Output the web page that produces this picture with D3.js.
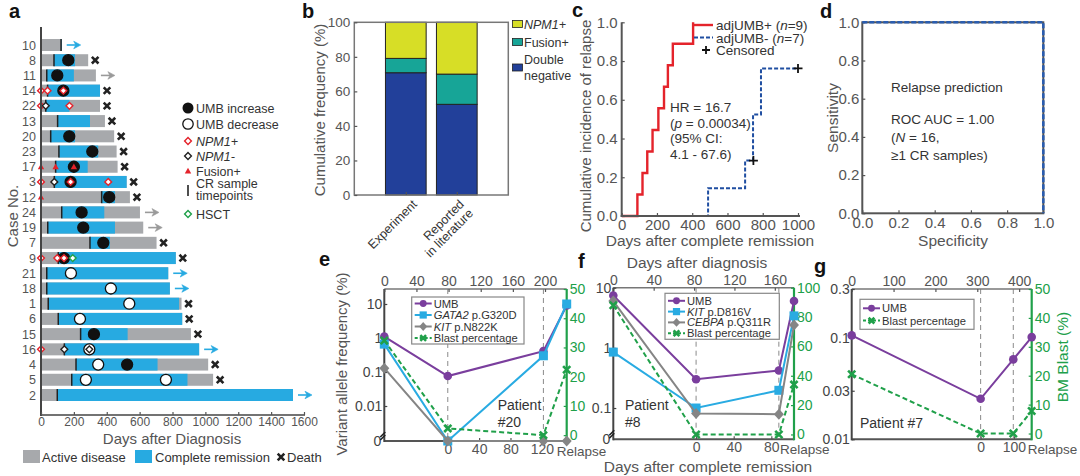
<!DOCTYPE html>
<html><head><meta charset="utf-8">
<script src="https://cdn.jsdelivr.net/npm/d3@7"></script>
<style>body{margin:0;background:#fff}svg{font-family:"Liberation Sans",Arial,sans-serif}</style>
</head><body>
<svg id="fig" width="1080" height="476"></svg>
<script>
// ---------------- DATA ----------------
// Panel a (swimmer plot)
const caseIds   = ["10","8","11","14","22","13","20","23","17","3","12","24","19","7","9","21","18","1","6","15","16","4","5","2"];
const crStart   = [122,79,35,40,29,101,59,109,89,81,369,126,41,298,105,35,35,44,105,241,142,213,187,99];
const crEnd     = [126,207,200,359,173,298,207,348,284,521,450,385,450,419,820,774,784,840,859,527,962,709,891,1533];
const totalDays = [126,287,334,359,359,389,445,460,466,521,541,602,622,703,820,774,784,855,859,912,962,1017,1047,1533];
const outcome   = ["cr","death","active","death","death","death","death","death","death","death","death","active","active","death","death","cr","cr","death","death","death","cr","death","death","cr"];
const umbCase = ["8","11","14","20","23","17","3","12","24","19","7","9","21","18","1","6","15","16","4","4","5","5"];
const umbDay  = [166,99,136,172,312,200,180,415,247,257,379,140,182,425,537,237,322,294,348,524,273,760];
const umbType = ["inc","inc","inc","inc","inc","inc","inc","inc","inc","inc","inc","inc","dec","dec","dec","dec","inc","dec","dec","inc","dec","dec"];
const npmPosCase = ["14","14","14","22","22","3","3","3","9","9","9","16"];
const npmPosDay  = [0,40,136,0,173,0,180,409,0,99,140,0];
const npmNegCase = ["22","3","16","16"];
const npmNegDay  = [29,81,142,294];
const fusionCase = ["17","17","17","12"];
const fusionDay  = [0,89,200,0];
const hsctCase = ["9"];
const hsctDay  = [193];
const aTicks = [0,200,400,600,800,1000,1200,1400,1600];

// Panel b
const bCats = ["Experiment","Reported in literature"];
const bDoubleNeg = [70.8, 52.5];
const bFusion    = [8.3, 17.5];
const bNPM1      = [20.9, 30.0];
const bTicks = [0,20,40,60,80,100];

// Panel c
const plusDays = [0,89,118,145,175,208,240,262,290,405];
const plusInc  = [0,0.111,0.222,0.333,0.444,0.556,0.667,0.778,0.889,1.0];
const minusDays = [0,490,700,745,790,1000];
const minusInc  = [0,0.143,0.286,0.524,0.762,0.762];
const censorDays = [747,1000];
const censorInc  = [0.286,0.762];
const cTicksX = [0,200,400,600,800,1000];
const cTicksY = [0,0.2,0.4,0.6,0.8,1.0];

// Panel d
const rocSpec = [0,1,1];
const rocSens = [1,1,0];
const dTicks = [0,0.2,0.4,0.6,0.8,1.0];

// Panel e (patient #20): days after diagnosis, days after CR for CR samples
const eDays  = [0,79,198,227];
const eCRDays = [0,122];
const eUMB   = [1.1,0.076,0.41,9];
const eGATA2 = [0.66,0,0.3,10];
const eKIT   = [0.13,0,0,0];
const eBlast = [32.4,2.3,0,22.4];
// Panel f (patient #8)
const fDays  = [0,82,164,179];
const fCRDays = [0,88];
const fUMB   = [7.4,0.30,0.42,6.0];
const fKIT   = [0.85,0.10,0.197,3.4];
const fCEBPA = [6.0,0.081,0.079,2.4];
const fBlast = [88,0,0,34];
// Panel g (patient #7)
const gDays  = [0,308,386,430];
const gCRDays = [0,98];
const gUMB   = [0.105,0.025,0.061,0.101];
const gBlast = [20.5,0,0,7.8];

// ---------------- STYLE ----------------
const GRAY_BAR="#a7a9ac", BLUE_BAR="#27aae1", RED="#e4232b", DARK="#222";
const TXT="#555", TXT2="#333";
const PURPLE="#7a3e9d", LBLUE="#29abe2", MGRAY="#858585", GREEN="#20a04a";
const svg = d3.select("#fig");

function label(t,x,y){ svg.append("text").attr("x",x).attr("y",y).attr("font-size",20).attr("font-weight","bold").attr("fill","#111").text(t); }
function styleAxis(sel,color,fs){
  sel.select(".domain").remove();
  sel.selectAll(".tick line").attr("stroke",color).attr("stroke-width",1.2);
  sel.selectAll(".tick text").attr("fill",color).attr("font-size",fs).attr("font-family","Liberation Sans, Arial, sans-serif");
}
function diamond(g,x,y,r,stroke,fill){ g.append("path").attr("d",`M${x},${y-r}L${x+r},${y}L${x},${y+r}L${x-r},${y}Z`).attr("fill",fill).attr("stroke",stroke).attr("stroke-width",1.4); }
function tri(g,x,y,r,fill){ g.append("path").attr("d",`M${x},${y-r}L${x+r},${y+r*0.75}L${x-r},${y+r*0.75}Z`).attr("fill",fill); }
function xmark(g,x,y,s,color,w){ g.append("path").attr("d",`M${x-s},${y-s}L${x+s},${y+s}M${x-s},${y+s}L${x+s},${y-s}`).attr("stroke",color).attr("stroke-width",w).attr("fill","none"); }
function arrow(g,x,y,color){
  g.append("line").attr("x1",x).attr("x2",x+10).attr("y1",y).attr("y2",y).attr("stroke",color).attr("stroke-width",1.6);
  g.append("path").attr("d",`M${x+14},${y}L${x+7},${y-3.8}L${x+9},${y}L${x+7},${y+3.8}Z`).attr("fill",color).attr("stroke",color).attr("stroke-width",0.6);
}

// ---------------- PANEL A ----------------
(function(){
  const g = svg.append("g");
  const x = d3.scaleLinear().domain([0,1600]).range([41,304]);
  const y = d3.scalePoint().domain(caseIds).range([45,395]);
  const BH = 12;
  caseIds.forEach((id,i)=>{
    const yc = y(id);
    g.append("rect").attr("x",x(0)+1).attr("y",yc-BH/2).attr("width",x(totalDays[i])-x(0)-1).attr("height",BH).attr("fill",GRAY_BAR);
    g.append("rect").attr("x",x(crStart[i])).attr("y",yc-BH/2).attr("width",x(crEnd[i])-x(crStart[i])).attr("height",BH).attr("fill",BLUE_BAR);
    g.append("line").attr("x1",x(crStart[i])).attr("x2",x(crStart[i])).attr("y1",yc-BH/2).attr("y2",yc+BH/2).attr("stroke",DARK).attr("stroke-width",1.5);
    const xe = x(totalDays[i]);
    if(outcome[i]==="death") xmark(g,xe+7,yc,3.3,DARK,2.6);
    else arrow(g,xe+5,yc,outcome[i]==="cr"?BLUE_BAR:"#9a9a9a");
  });
  umbCase.forEach((id,i)=>{
    g.append("circle").attr("cx",x(umbDay[i])).attr("cy",y(id)).attr("r",5.5)
      .attr("fill",umbType[i]==="inc"?"#111":"#fff").attr("stroke","#111").attr("stroke-width",1.3);
  });
  npmPosCase.forEach((id,i)=>diamond(g,x(npmPosDay[i]),y(id),3.4,RED,"#fff"));
  npmNegCase.forEach((id,i)=>diamond(g,x(npmNegDay[i]),y(id),3.4,DARK,"#fff"));
  fusionCase.forEach((id,i)=>tri(g,x(fusionDay[i]),y(id),3.2,RED));
  hsctCase.forEach((id,i)=>diamond(g,x(hsctDay[i]),y(id),3.4,GREEN,"#fff"));
  // axes
  g.append("line").attr("x1",41).attr("x2",41).attr("y1",27).attr("y2",416).attr("stroke","#444").attr("stroke-width",2);
  g.append("line").attr("x1",40).attr("x2",305).attr("y1",415).attr("y2",415).attr("stroke","#444").attr("stroke-width",1.5);
  const ax = g.append("g").attr("transform","translate(0,415)").call(d3.axisBottom(x).tickValues(aTicks).tickFormat(d3.format("d")).tickSize(-3).tickPadding(2));
  styleAxis(ax,TXT,12);
  const ay = g.append("g").attr("transform","translate(41,0)").call(d3.axisLeft(y).tickSize(0).tickPadding(5));
  styleAxis(ay,TXT,12.5);
  g.append("text").attr("transform","translate(18,216) rotate(-90)").attr("text-anchor","middle").attr("font-size",15).attr("fill",TXT).text("Case No.");
  g.append("text").attr("x",172).attr("y",444).attr("text-anchor","middle").attr("font-size",15).attr("fill",TXT).text("Days after Diagnosis");
  // legend (right)
  const lx=188, tx=196, fs=12.5;
  g.append("circle").attr("cx",lx).attr("cy",108).attr("r",5.5).attr("fill","#111");
  g.append("text").attr("x",tx).attr("y",112.5).attr("font-size",fs).attr("fill",TXT2).text("UMB increase");
  g.append("circle").attr("cx",lx).attr("cy",124).attr("r",5.2).attr("fill","#fff").attr("stroke","#111").attr("stroke-width",1.3);
  g.append("text").attr("x",tx).attr("y",128.5).attr("font-size",fs).attr("fill",TXT2).text("UMB decrease");
  diamond(g,lx,141,3.4,RED,"#fff");
  g.append("text").attr("x",tx).attr("y",145.5).attr("font-size",fs).attr("fill",TXT2).attr("font-style","italic").text("NPM1+");
  diamond(g,lx,156,3.4,DARK,"#fff");
  g.append("text").attr("x",tx).attr("y",160.5).attr("font-size",fs).attr("fill",TXT2).attr("font-style","italic").text("NPM1-");
  tri(g,lx,171,3.2,RED);
  g.append("text").attr("x",tx).attr("y",175.5).attr("font-size",fs).attr("fill",TXT2).text("Fusion+");
  g.append("line").attr("x1",lx).attr("x2",lx).attr("y1",185).attr("y2",196).attr("stroke",DARK).attr("stroke-width",1.6);
  g.append("text").attr("x",tx).attr("y",188).attr("font-size",fs).attr("fill",TXT2).text("CR sample");
  g.append("text").attr("x",tx).attr("y",200).attr("font-size",fs).attr("fill",TXT2).text("timepoints");
  diamond(g,lx,214,3.4,GREEN,"#fff");
  g.append("text").attr("x",tx).attr("y",218.5).attr("font-size",fs).attr("fill",TXT2).text("HSCT");
  // bottom legend
  g.append("rect").attr("x",23).attr("y",450).attr("width",17).attr("height",13).attr("fill",GRAY_BAR);
  g.append("text").attr("x",42).attr("y",461.5).attr("font-size",13).attr("fill",TXT2).text("Active disease");
  g.append("rect").attr("x",135).attr("y",450).attr("width",17).attr("height",13).attr("fill",BLUE_BAR);
  g.append("text").attr("x",155).attr("y",461.5).attr("font-size",13).attr("fill",TXT2).text("Complete remission");
  xmark(g,281,457,3.3,DARK,2.6);
  g.append("text").attr("x",287).attr("y",461.5).attr("font-size",13).attr("fill",TXT2).text("Death");
  label("a",9,18);
})();

// ---------------- PANEL B ----------------
(function(){
  const g = svg.append("g");
  const L=354.3,R=508.3,T=22.3,B=195;
  const x = d3.scalePoint().domain(bCats).range([L,R]).padding(1.01);
  const y = d3.scaleLinear().domain([0,100]).range([B,T]);
  const bw = 40.7;
  bCats.forEach((c,i)=>{
    const segs=[[0,bDoubleNeg[i],"#22409a"],[bDoubleNeg[i],bDoubleNeg[i]+bFusion[i],"#17a597"],[bDoubleNeg[i]+bFusion[i],bDoubleNeg[i]+bFusion[i]+bNPM1[i],"#d7de26"]];
    segs.forEach(s=>g.append("rect").attr("x",x(c)-bw/2).attr("y",y(s[1])).attr("width",bw).attr("height",y(s[0])-y(s[1])).attr("fill",s[2]).attr("stroke","#222").attr("stroke-width",1));
  });
  g.append("rect").attr("x",L).attr("y",T).attr("width",R-L).attr("height",B-T).attr("fill","none").attr("stroke","#777").attr("stroke-width",1.5);
  const ay = g.append("g").attr("transform",`translate(${L},0)`).call(d3.axisLeft(y).tickValues(bTicks).tickSize(-3).tickPadding(4));
  styleAxis(ay,TXT,13.5);
  const ax = g.append("g").attr("transform",`translate(0,${B})`).call(d3.axisBottom(x).tickSize(-3).tickFormat(""));
  styleAxis(ax,TXT,12);
  g.append("text").attr("transform",`translate(${x(bCats[0])+12},205) rotate(-45)`).attr("text-anchor","end").attr("font-size",12.5).attr("fill",TXT2).text("Experiment");
  const t2 = g.append("text").attr("transform",`translate(${x(bCats[1])+8},205) rotate(-45)`).attr("text-anchor","end").attr("font-size",12.5).attr("fill",TXT2);
  t2.append("tspan").attr("x",0).attr("dy",0).text("Reported");
  t2.append("tspan").attr("x",0).attr("dy",13).text("in literature");
  g.append("text").attr("transform","translate(325,110) rotate(-90)").attr("text-anchor","middle").attr("font-size",15).attr("fill",TXT).text("Cumulative frequency (%)");
  const leg=[["NPM1+",24,"#d7de26",true],["Fusion+",42,"#17a597",false]];
  leg.forEach(l=>{
    g.append("rect").attr("x",512.5).attr("y",l[1]-3.5).attr("width",10).attr("height",7).attr("fill",l[2]).attr("stroke","#222").attr("stroke-width",0.8);
    g.append("text").attr("x",524).attr("y",l[1]+4.5).attr("font-size",12.5).attr("fill",TXT2).attr("font-style",l[3]?"italic":"normal").text(l[0]);
  });
  g.append("rect").attr("x",512.5).attr("y",64).attr("width",10).attr("height",7).attr("fill","#22409a").attr("stroke","#222").attr("stroke-width",0.8);
  g.append("text").attr("x",524).attr("y",64).attr("font-size",12.5).attr("fill",TXT2).text("Double");
  g.append("text").attr("x",524).attr("y",80).attr("font-size",12.5).attr("fill",TXT2).text("negative");
  label("b",302,18);
})();

// ---------------- PANEL C ----------------
(function(){
  const g = svg.append("g");
  const L=621.7,R=798,T=22.3,B=216;
  const x = d3.scaleLinear().domain([0,1000]).range([L,R]);
  const y = d3.scaleLinear().domain([0,1]).range([B,T]);
  const step = d3.line().x(d=>x(d[0])).y(d=>y(d[1])).curve(d3.curveStepAfter);
  g.append("path").attr("d",step(minusDays.map((d,i)=>[d,minusInc[i]]))).attr("fill","none").attr("stroke","#1f4ea1").attr("stroke-width",2).attr("stroke-dasharray","4,2");
  g.append("path").attr("d",step(plusDays.map((d,i)=>[d,plusInc[i]]))).attr("fill","none").attr("stroke",RED).attr("stroke-width",2.4);
  censorDays.forEach((d,i)=>{
    const cx=x(d), cy=y(censorInc[i]);
    g.append("path").attr("d",`M${cx-4.5},${cy}L${cx+4.5},${cy}M${cx},${cy-4.5}L${cx},${cy+4.5}`).attr("stroke","#111").attr("stroke-width",1.8);
  });
  g.append("line").attr("x1",L).attr("x2",L).attr("y1",T).attr("y2",B+1).attr("stroke","#555").attr("stroke-width",2);
  g.append("line").attr("x1",L-1).attr("x2",R+2).attr("y1",B).attr("y2",B).attr("stroke","#555").attr("stroke-width",2);
  const ay = g.append("g").attr("transform",`translate(${L},0)`).call(d3.axisLeft(y).tickValues(cTicksY).tickFormat(d3.format(".1f")).tickSize(-3).tickPadding(4));
  styleAxis(ay,TXT,15);
  const ax = g.append("g").attr("transform",`translate(0,${B})`).call(d3.axisBottom(x).tickValues(cTicksX).tickFormat(d3.format("d")).tickSize(-3).tickPadding(3));
  styleAxis(ax,TXT,15);
  g.append("text").attr("transform","translate(591,126) rotate(-90)").attr("text-anchor","middle").attr("font-size",15).attr("fill",TXT).text("Cumulative incidence of relapse");
  g.append("text").attr("x",710).attr("y",246).attr("text-anchor","middle").attr("font-size",15.5).attr("fill",TXT).text("Days after complete remission");
  // legend
  g.append("line").attr("x1",694).attr("x2",713).attr("y1",25).attr("y2",25).attr("stroke",RED).attr("stroke-width",2.4);
  const t1=g.append("text").attr("x",716).attr("y",29.5).attr("font-size",13.5).attr("fill",TXT2);
  t1.append("tspan").text("adjUMB+ ("); t1.append("tspan").attr("font-style","italic").text("n"); t1.append("tspan").text("=9)");
  g.append("line").attr("x1",694).attr("x2",713).attr("y1",37.5).attr("y2",37.5).attr("stroke","#1f4ea1").attr("stroke-width",2).attr("stroke-dasharray","4,2");
  const t2=g.append("text").attr("x",716).attr("y",42.5).attr("font-size",13.5).attr("fill",TXT2);
  t2.append("tspan").text("adjUMB- ("); t2.append("tspan").attr("font-style","italic").text("n"); t2.append("tspan").text("=7)");
  g.append("path").attr("d","M702,50L710,50M706,46L706,54").attr("stroke","#111").attr("stroke-width",1.8);
  g.append("text").attr("x",716).attr("y",55).attr("font-size",13.5).attr("fill",TXT2).text("Censored");
  g.append("text").attr("x",670).attr("y",112).attr("font-size",13.5).attr("fill",TXT2).text("HR = 16.7");
  const tp=g.append("text").attr("x",670).attr("y",127.5).attr("font-size",13.5).attr("fill",TXT2);
  tp.append("tspan").text("("); tp.append("tspan").attr("font-style","italic").text("p"); tp.append("tspan").text(" = 0.00034)");
  g.append("text").attr("x",670).attr("y",143).attr("font-size",13.5).attr("fill",TXT2).text("(95% CI:");
  g.append("text").attr("x",670).attr("y",158.5).attr("font-size",13.5).attr("fill",TXT2).text("4.1 - 67.6)");
  label("c",572,17);
})();

// ---------------- PANEL D ----------------
(function(){
  const g = svg.append("g");
  const L=862.3,R=1043.3,T=22.3,B=213.3;
  const x = d3.scaleLinear().domain([0,1]).range([L,R]);
  const y = d3.scaleLinear().domain([0,1]).range([B,T]);
  g.append("rect").attr("x",L).attr("y",T).attr("width",R-L).attr("height",B-T).attr("fill","none").attr("stroke","#555").attr("stroke-width",2);
  const ay = g.append("g").attr("transform",`translate(${L},0)`).call(d3.axisLeft(y).tickValues(dTicks).tickFormat(d3.format(".1f")).tickSize(-3).tickPadding(3));
  styleAxis(ay,TXT,15);
  const ax = g.append("g").attr("transform",`translate(0,${B})`).call(d3.axisBottom(x).tickValues(dTicks).tickFormat(d3.format(".1f")).tickSize(-3).tickPadding(4));
  styleAxis(ax,TXT,15);
  const ln = d3.line().x((d,i)=>x(rocSpec[i])).y((d,i)=>y(rocSens[i]));
  g.append("path").attr("d",ln(rocSpec)).attr("fill","none").attr("stroke","#2a5db0").attr("stroke-width",2.6).attr("stroke-dasharray","5,2");
  g.append("text").attr("transform","translate(838,118) rotate(-90)").attr("text-anchor","middle").attr("font-size",15.5).attr("fill",TXT).text("Sensitivity");
  g.append("text").attr("x",953).attr("y",246).attr("text-anchor","middle").attr("font-size",15.5).attr("fill",TXT).text("Specificity");
  g.append("text").attr("x",891).attr("y",91.5).attr("font-size",13.5).attr("fill",TXT2).text("Relapse prediction");
  g.append("text").attr("x",891).attr("y",124).attr("font-size",13.5).attr("fill",TXT2).text("ROC AUC = 1.00");
  const tn=g.append("text").attr("x",891).attr("y",142).attr("font-size",13.5).attr("fill",TXT2);
  tn.append("tspan").text("("); tn.append("tspan").attr("font-style","italic").text("N"); tn.append("tspan").text(" = 16,");
  g.append("text").attr("x",891).attr("y",160).attr("font-size",13.5).attr("fill",TXT2).text("\u22651 CR samples)");
  label("d",820,18);
})();

// ---------------- PANELS E-G ----------------
function marker(g,type,px,py,color,k=1){
  if(type==="circle") g.append("circle").attr("cx",px).attr("cy",py).attr("r",4.3*k).attr("fill",color);
  else if(type==="square") g.append("rect").attr("x",px-4.5*k).attr("y",py-4.5*k).attr("width",9*k).attr("height",9*k).attr("fill",color);
  else if(type==="diamond") g.append("path").attr("d",`M${px},${py-5.5*k}L${px+5*k},${py}L${px},${py+5.5*k}L${px-5*k},${py}Z`).attr("fill",color);
  else if(type==="x") xmark(g,px,py,3.6*k,color,2.6);
}
function patientPanel(c){
  const g = svg.append("g");
  const x = d3.scaleLinear().domain(c.xDomain).range([c.L,c.R]);
  // bottom axis: days after CR, anchored at the CR sample positions
  const xb = d3.scaleLinear().domain([c.crDays[0],c.crDays[1]]).range([x(c.days[1]),x(c.days[2])]);
  const y = d3.scaleLog().domain(c.yDomain).range([c.B,c.T]);
  const yr = d3.scaleLinear().domain(c.rDomain).range([c.B,c.T]);
  const yl = v => v<=0 ? c.B : y(v);
  [c.days[1],c.days[2]].forEach(d=>g.append("line").attr("x1",x(d)).attr("x2",x(d)).attr("y1",c.T).attr("y2",c.B).attr("stroke","#8a8a8a").attr("stroke-width",1).attr("stroke-dasharray","5,4"));
  // frame
  g.append("line").attr("x1",c.L).attr("x2",c.R).attr("y1",c.T).attr("y2",c.T).attr("stroke","#777").attr("stroke-width",1.5);
  g.append("line").attr("x1",c.L).attr("x2",c.R).attr("y1",c.B).attr("y2",c.B).attr("stroke","#555").attr("stroke-width",2);
  g.append("line").attr("x1",c.L).attr("x2",c.L).attr("y1",c.T).attr("y2",c.B+1).attr("stroke","#444").attr("stroke-width",2);
  g.append("line").attr("x1",c.R).attr("x2",c.R).attr("y1",c.T).attr("y2",c.B+1).attr("stroke",GREEN).attr("stroke-width",2.2);
  const at = g.append("g").attr("transform",`translate(0,${c.T})`).call(d3.axisTop(x).tickValues(c.topTicks).tickSize(-3).tickPadding(3));
  styleAxis(at,TXT,14);
  const ab = g.append("g").attr("transform",`translate(0,${c.B})`).call(d3.axisBottom(xb).tickValues(c.botTicks).tickSize(-3).tickPadding(3));
  styleAxis(ab,TXT,14);
  g.append("text").attr("x",c.R+c.relOff).attr("y",c.B+15).attr("font-size",13.5).attr("fill",TXT).text("Relapse");
  const al = g.append("g").attr("transform",`translate(${c.L},0)`).call(d3.axisLeft(y).tickValues(c.yTicks).tickFormat((d,i)=>c.yLabels[i]).tickSize(-3).tickPadding(2));
  styleAxis(al,"#444",14);
  if(c.zeroLabel){
    g.append("text").attr("x",c.L-3).attr("y",c.B+5).attr("text-anchor","end").attr("font-size",14).attr("fill","#444").text("0");
    g.append("path").attr("d",`M${c.L-4},${c.B-4}L${c.L+1},${c.B-9}M${c.L-4},${c.B-1}L${c.L+1},${c.B-6}`).attr("stroke","#222").attr("stroke-width",1.6);
  }
  const ar = g.append("g").attr("transform",`translate(${c.R},0)`).call(d3.axisRight(yr).tickValues(c.rTicks).tickSize(-3).tickPadding(3));
  styleAxis(ar,GREEN,14);
  // series
  c.series.forEach(s=>{
    const pts = c.days.map((d,i)=>[x(d), s.right? yr(s.vals[i]) : yl(s.vals[i])]);
    g.append("path").attr("d",d3.line()(pts)).attr("fill","none").attr("stroke",s.color).attr("stroke-width",2).attr("stroke-dasharray",s.dash?"5,3":null);
    pts.forEach(p=>marker(g,s.marker,p[0],p[1],s.color));
  });
  // legend
  const lg = c.legend;
  g.append("rect").attr("x",lg.x).attr("y",lg.y).attr("width",lg.w).attr("height",lg.h).attr("fill","#fff").attr("stroke","#888").attr("stroke-width",1.2);
  c.series.forEach((s,i)=>{
    const yy = lg.y + lg.pad + i*lg.dy;
    g.append("line").attr("x1",lg.x+3).attr("x2",lg.x+20).attr("y1",yy).attr("y2",yy).attr("stroke",s.color).attr("stroke-width",2).attr("stroke-dasharray",s.dash?"3,2":null);
    marker(g,s.marker,lg.x+11.5,yy,s.color,0.8);
    const t = g.append("text").attr("x",lg.x+22).attr("y",yy+4).attr("font-size",11.2).attr("fill",TXT2);
    if(s.italic){ t.append("tspan").attr("font-style","italic").text(s.italic); t.append("tspan").text(" "+s.name); }
    else t.text(s.name);
  });
  c.patient.forEach(p=>g.append("text").attr("x",p[1]).attr("y",p[2]).attr("font-size",14).attr("fill",TXT2).text(p[0]));
}

patientPanel({
  L:384.3,R:566.7,T:289,B:441, xDomain:[0,227], days:eDays, crDays:eCRDays,
  topTicks:[0,40,80,120,160,200], botTicks:[0,40,80,120], relOff:-10,
  yDomain:[0.000935,27.6], yTicks:[10,1,0.1,0.01], yLabels:["10","1","0.1","0.01"], zeroLabel:true,
  rDomain:[-2,50], rTicks:[0,10,20,30,40,50],
  series:[
    {name:"UMB",vals:eUMB,color:PURPLE,marker:"circle"},
    {name:"p.G320D",italic:"GATA2",vals:eGATA2,color:LBLUE,marker:"square"},
    {name:"p.N822K",italic:"KIT",vals:eKIT,color:MGRAY,marker:"diamond"},
    {name:"Blast percentage",vals:eBlast,color:GREEN,marker:"x",dash:true,right:true}],
  legend:{x:411.7,y:297,w:112.3,h:47,pad:6.5,dy:11.5},
  patient:[["Patient",497.7,410],["#20",497.7,427]]
});
patientPanel({
  L:613.3,R:794,T:287.7,B:439.3, xDomain:[0,179], days:fDays, crDays:fCRDays,
  topTicks:[0,40,80,120,160], botTicks:[0,40,80], relOff:-14,
  yDomain:[0.0302,10], yTicks:[10,1,0.1], yLabels:["10","1","0.1"], zeroLabel:true,
  rDomain:[-3.3,100], rTicks:[0,20,40,60,80,100],
  series:[
    {name:"UMB",vals:fUMB,color:PURPLE,marker:"circle"},
    {name:"p.D816V",italic:"KIT",vals:fKIT,color:LBLUE,marker:"square"},
    {name:"p.Q311R",italic:"CEBPA",vals:fCEBPA,color:MGRAY,marker:"diamond"},
    {name:"Blast percentage",vals:fBlast,color:GREEN,marker:"x",dash:true,right:true}],
  legend:{x:665,y:293.3,w:114.3,h:46,pad:7.5,dy:10.8},
  patient:[["Patient",625,410],["#8",625,427]]
});
patientPanel({
  L:851.7,R:1031.7,T:289,B:439.3, xDomain:[0,430], days:gDays, crDays:gCRDays,
  topTicks:[0,100,200,300,400], botTicks:[0,100], relOff:-4,
  yDomain:[0.01,0.3], yTicks:[0.3,0.1,0.03,0.01], yLabels:["0.3","0.1","0.03","0.01"], zeroLabel:false,
  rDomain:[-2,50], rTicks:[0,10,20,30,40,50],
  series:[
    {name:"UMB",vals:gUMB,color:PURPLE,marker:"circle"},
    {name:"Blast percentage",vals:gBlast,color:GREEN,marker:"x",dash:true,right:true}],
  legend:{x:860,y:299.3,w:114,h:30,pad:9,dy:12.3},
  patient:[["Patient #7",860,428]]
});
svg.append("text").attr("x",697).attr("y",268).attr("text-anchor","middle").attr("font-size",15.5).attr("fill",TXT).text("Days after diagnosis");
svg.append("text").attr("x",708).attr("y",472).attr("text-anchor","middle").attr("font-size",15.5).attr("fill",TXT).text("Days after complete remission");
svg.append("text").attr("transform","translate(347,364) rotate(-90)").attr("text-anchor","middle").attr("font-size",15).attr("fill",TXT).text("Variant allele frequency (%)");
svg.append("text").attr("transform","translate(1068,357) rotate(-90)").attr("text-anchor","middle").attr("font-size",15.5).attr("fill",GREEN).text("BM Blast (%)");
label("e",319,266);
label("f",578,268);
label("g",814,273);
</script>
</body></html>
